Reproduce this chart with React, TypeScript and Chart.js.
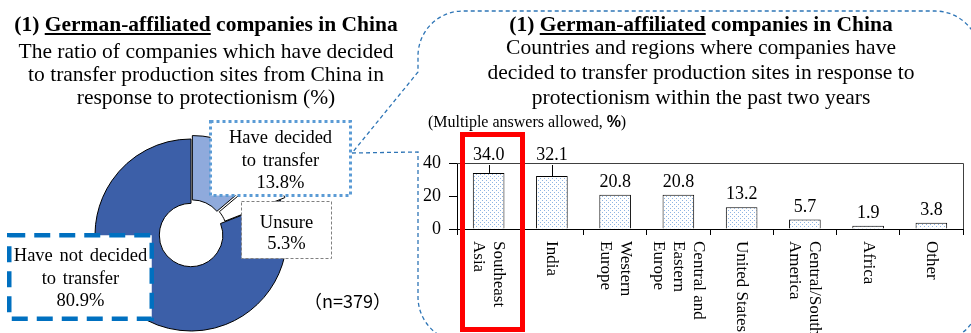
import React, { useEffect, useRef } from 'react';
import { Chart, registerables } from 'chart.js';

Chart.register(...registerables);

// Share of companies by relocation decision (%)
const decisionLabels = ['Have decided to transfer', 'Unsure', 'Have not decided to transfer'];
const decisionLines = [['Have decided', 'to transfer'], ['Unsure'], ['Have not decided', 'to transfer']];
const decisionShares = [13.8, 5.3, 80.9];
const decisionColors = ['#8FAADC', '#FFFFFF', '#3C5FA8'];
const decisionExplode = [12, 12, 0];
const sampleSize = 379;

// Destinations of transferred production sites (multiple answers, %)
const regionLabels = [
  ['Southeast', 'Asia'],
  ['India'],
  ['Western', 'Europe'],
  ['Central and', 'Eastern', 'Europe'],
  ['United States'],
  ['Central/South', 'America'],
  ['Africa'],
  ['Other'],
];
const regionShares = [34.0, 32.1, 20.8, 20.8, 13.2, 5.7, 1.9, 3.8];
const shareTicks = [0, 20, 40];

const SERIF = '"Liberation Serif", "Times New Roman", Times, serif';

function dotPattern(): CanvasPattern | string {
  const c = document.createElement('canvas');
  c.width = 4;
  c.height = 4;
  const g = c.getContext('2d');
  if (!g) return '#DDEBF7';
  g.fillStyle = '#FFFFFF';
  g.fillRect(0, 0, 4, 4);
  g.fillStyle = '#8EB4E3';
  g.fillRect(0, 0, 1, 1);
  g.fillRect(2, 2, 1, 1);
  return g.createPattern(c, 'repeat') || '#DDEBF7';
}

function DecisionDonut() {
  const ref = useRef<HTMLCanvasElement>(null);
  useEffect(() => {
    const chart = new Chart(ref.current!, {
      type: 'doughnut',
      data: {
        labels: decisionLabels,
        datasets: [
          {
            data: decisionShares,
            backgroundColor: decisionColors,
            borderColor: '#000000',
            borderWidth: 1,
            offset: decisionExplode,
          },
        ],
      },
      options: {
        animation: false,
        responsive: false,
        events: [],
        radius: 96,
        cutout: '33%',
        layout: { padding: 0 },
        plugins: { legend: { display: false }, tooltip: { enabled: false } },
      } as any,
    });
    return () => chart.destroy();
  }, []);
  return (
    <canvas
      ref={ref}
      width={240}
      height={240}
      style={{ position: 'absolute', left: 71, top: 115, width: 240, height: 240 }}
    />
  );
}

const barDecor = {
  id: 'barDecor',
  afterDatasetsDraw(chart: any) {
    const { ctx, chartArea } = chart;
    const xScale = chart.scales.x;
    ctx.save();
    // frame: top and right edges of the plot
    ctx.strokeStyle = '#404040';
    ctx.lineWidth = 1;
    ctx.beginPath();
    ctx.moveTo(chartArea.left, Math.round(chartArea.top) + 0.5);
    ctx.lineTo(Math.round(chartArea.right) + 0.5, Math.round(chartArea.top) + 0.5);
    ctx.lineTo(Math.round(chartArea.right) + 0.5, chartArea.bottom);
    ctx.stroke();

    // value labels
    const meta = chart.getDatasetMeta(0);
    ctx.fillStyle = '#000000';
    ctx.font = `18px ${SERIF}`;
    ctx.textAlign = 'center';
    ctx.textBaseline = 'alphabetic';
    meta.data.forEach((bar: any, i: number) => {
      const natural = bar.y - 8;
      let base = natural;
      if (natural - 14 < chartArea.top) {
        base = chartArea.top - 3;
        ctx.strokeStyle = '#000000';
        ctx.beginPath();
        ctx.moveTo(Math.round(bar.x) + 0.5, bar.y);
        ctx.lineTo(Math.round(bar.x) + 0.5, base + 5);
        ctx.stroke();
      }
      ctx.fillText(regionShares[i].toFixed(1), bar.x, base);
    });

    // category labels, rotated to read top to bottom
    ctx.font = `17px ${SERIF}`;
    ctx.textAlign = 'left';
    ctx.textBaseline = 'middle';
    const lh = 20;
    regionLabels.forEach((lines, i) => {
      const cx = xScale.getPixelForValue(i);
      const n = lines.length;
      lines.forEach((line, k) => {
        const lx = cx + ((n - 1) / 2 - k) * lh;
        ctx.save();
        ctx.translate(lx, chartArea.bottom + 12);
        ctx.rotate(Math.PI / 2);
        ctx.fillText(line, 0, 0);
        ctx.restore();
      });
    });
    ctx.restore();
  },
};

function RegionBars() {
  const ref = useRef<HTMLCanvasElement>(null);
  useEffect(() => {
    const chart = new Chart(ref.current!, {
      type: 'bar',
      data: {
        labels: regionLabels.map((l) => l.join(' ')),
        datasets: [
          {
            data: regionShares,
            backgroundColor: dotPattern(),
            borderColor: '#000000',
            borderWidth: 1,
            barPercentage: 0.5,
            categoryPercentage: 1,
          },
        ],
      },
      options: {
        animation: false,
        responsive: false,
        events: [],
        layout: { padding: { left: 0, top: 23, right: 8, bottom: 0 } },
        plugins: { legend: { display: false }, tooltip: { enabled: false } },
        scales: {
          x: {
            grid: { offset: true, drawOnChartArea: false, drawTicks: true, tickLength: 6, color: '#000000' },
            border: { color: '#000000' },
            ticks: { display: false },
            afterFit: (s: any) => {
              s.height = 161;
            },
          },
          y: {
            min: shareTicks[0],
            max: shareTicks[shareTicks.length - 1],
            afterBuildTicks: (s: any) => {
              s.ticks = shareTicks.map((v) => ({ value: v }));
            },
            ticks: { color: '#000000', font: { family: SERIF, size: 18 }, padding: 8 },
            grid: { drawOnChartArea: false, tickLength: 8, color: '#000000' },
            border: { color: '#000000' },
            afterFit: (s: any) => {
              s.width = 47;
            },
          },
        },
      } as any,
      plugins: [barDecor],
    });
    return () => chart.destroy();
  }, []);
  return (
    <canvas
      ref={ref}
      width={561}
      height={250}
      style={{ position: 'absolute', left: 410, top: 140, width: 561, height: 250 }}
    />
  );
}

function TextLine(props: { left: number; top: number; width: number; size: number; lh: number; bold?: boolean; children: React.ReactNode; align?: 'center' | 'left' }) {
  return (
    <div
      style={{
        position: 'absolute',
        left: props.left,
        top: props.top,
        width: props.width,
        textAlign: props.align || 'center',
        fontFamily: SERIF,
        fontSize: props.size,
        lineHeight: `${props.lh}px`,
        fontWeight: props.bold ? 700 : 400,
        whiteSpace: 'nowrap',
        color: '#000',
      }}
    >
      {props.children}
    </div>
  );
}

function BoxText(props: { left: number; top: number; width: number; lh: number; lines: string[] }) {
  return (
    <div
      style={{
        position: 'absolute',
        left: props.left,
        top: props.top,
        width: props.width,
        textAlign: 'center',
        fontFamily: SERIF,
        fontSize: 18.5,
        lineHeight: `${props.lh}px`,
        wordSpacing: 2,
        whiteSpace: 'nowrap',
        color: '#000',
      }}
    >
      {props.lines.map((l, i) => (
        <div key={i}>{l}</div>
      ))}
    </div>
  );
}

const Heading = () => (
  <>
    (1) <span style={{ textDecoration: 'underline' }}>German-affiliated</span> companies in China
  </>
);

export default function App() {
  const pct = (v: number) => `${v.toFixed(1)}%`;
  return (
    <div
      style={{
        position: 'fixed',
        left: 0,
        top: 0,
        width: 971,
        height: 333,
        overflow: 'hidden',
        background: '#ffffff',
      }}
    >
      <DecisionDonut />
      <RegionBars />

      <svg
        width={971}
        height={333}
        style={{ position: 'absolute', left: 0, top: 0, pointerEvents: 'none' }}
      >
        <path
          d="M 352 153 L 418 152 L 418 297 A 45 45 0 0 0 463 342 L 935 342 A 45 45 0 0 0 980 297 L 980 56 A 45 45 0 0 0 935 11 L 463 11 A 45 45 0 0 0 418 56 L 418 72 Z"
          fill="none"
          stroke="#2E75B6"
          strokeWidth={1.3}
          strokeDasharray="4 3"
        />
        <rect x={210.5} y={121.5} width={140} height={74} fill="#ffffff" stroke="#5B9BD5" strokeWidth={3} strokeDasharray="3 3" />
        <rect x={241.5} y={201.5} width={90} height={57} fill="#ffffff" stroke="#808080" strokeWidth={1} strokeDasharray="3 2" />
        <rect x={9.25} y={235.25} width={142.5} height={83.5} fill="#ffffff" stroke="#0070C0" strokeWidth={4.5} strokeDasharray="16 9" />
        <rect x={462.5} y={134.5} width={60} height={195} fill="none" stroke="#FF0000" strokeWidth={5} />
      </svg>

      {/* left panel heading */}
      <TextLine left={0} top={13} width={412} size={21.5} lh={23} bold>
        <Heading />
      </TextLine>
      <TextLine left={0} top={40} width={412} size={21.5} lh={23}>
        <div>The ratio of companies which have decided</div>
        <div>to transfer production sites from China in</div>
        <div>response to protectionism (%)</div>
      </TextLine>

      {/* right panel heading */}
      <TextLine left={451} top={13} width={500} size={21.5} lh={23} bold>
        <Heading />
      </TextLine>
      <TextLine left={451} top={35} width={500} size={21.5} lh={25}>
        <div>Countries and regions where companies have</div>
        <div>decided to transfer production sites in response to</div>
        <div>protectionism within the past two years</div>
      </TextLine>
      <TextLine left={428} top={113} width={260} size={16} lh={18} align="left">
        (Multiple answers allowed,{' '}
        <span style={{ fontFamily: '"Liberation Sans", Arial, sans-serif', fontWeight: 700 }}>%</span>)
      </TextLine>

      {/* donut callouts */}
      <BoxText left={209} top={126} width={143} lh={22.5} lines={[...decisionLines[0], pct(decisionShares[0])]} />
      <BoxText left={241} top={212} width={91} lh={21} lines={[...decisionLines[1], pct(decisionShares[1])]} />
      <BoxText left={7} top={244} width={147} lh={22.5} lines={[...decisionLines[2], pct(decisionShares[2])]} />

      <div
        style={{
          position: 'absolute',
          left: 304,
          top: 287,
          fontFamily: '"Noto Sans CJK JP", "Noto Sans", sans-serif',
          fontSize: 18,
          lineHeight: '26px',
          whiteSpace: 'nowrap',
          color: '#000',
        }}
      >
        （n={sampleSize}）
      </div>
    </div>
  );
}
